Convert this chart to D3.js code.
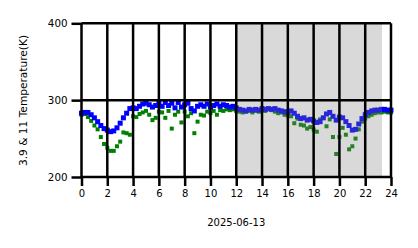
<!DOCTYPE html>
<html>
<head>
<meta charset="utf-8">
<script src="https://cdn.jsdelivr.net/npm/d3@7"></script>
<style>
  html, body { margin: 0; padding: 0; background: #fff; }
  svg { display: block; font-family: "DejaVu Sans", sans-serif; }
</style>
</head>
<body>
<svg id="chart" width="418" height="248"></svg>
<script>
// Time (hours of 2025-06-13), sampled every 15 minutes
const hours = d3.range(0, 24.001, 0.25);

// 3.9 µm brightness temperature (K) - blue
const t39 = [
  283, 284, 284, 281, 277, 272, 267, 263, 261, 259, 260, 264,
  270, 277, 283, 289, 290, 289, 292, 295, 296, 294, 291, 293,
  296, 292, 297, 293, 296, 290, 297, 291, 294, 296, 289, 286,
  292, 294, 292, 295, 291, 293, 295, 292, 294, 293, 291, 292,
  290, 288, 287, 286, 288, 287, 288, 287, 289, 288, 289, 288,
  289, 287, 286, 285, 284, 286, 283, 279, 276, 277, 274, 275,
  273, 271, 272, 277, 282, 284, 279, 274, 278, 277, 272, 267,
  261, 262, 269, 276, 281, 284, 286, 287, 287, 288, 288, 287, 287
];

// 11 µm brightness temperature (K) - green
const t11 = [
  281, 282, 278, 273, 267, 262, 252, 243, 238, 234, 234, 240,
  246, 258, 257, 255, 279, 278, 282, 284, 286, 281, 274, 277,
  285, 284, 277, 286, 263, 281, 285, 271, 285, 279, 283, 257,
  272, 281, 280, 285, 283, 286, 281, 287, 286, 288, 287, 288,
  286, 285, 284, 285, 286, 284, 286, 285, 287, 286, 288, 287,
  285, 283, 284, 281, 280, 279, 270, 276, 268, 267, 263, 265,
  262, 259, 275, 277, 266, 275, 252, 230, 252, 264, 255, 236,
  240, 250, 262, 272, 276, 279, 281, 283, 284, 284, 285, 284, 284
];

// Shaded interval (hours)
const shadeStart = 12.0, shadeEnd = 23.3;

const xTicks = d3.range(0, 25, 2);
const yTicks = [200, 300, 400];
const xLabel = "2025-06-13";
const yLabel = "3.9 & 11 Temperature(K)";

const svg = d3.select("#chart");
const x = d3.scaleLinear().domain([0, 24]).range([81.5, 391]);
const y = d3.scaleLinear().domain([200, 400]).range([177, 23.3]);

const pts39 = hours.map((h, i) => ({h, v: t39[i]}));
const pts11 = hours.map((h, i) => ({h, v: t11[i]}));

// points
const gPts = svg.append("g");
const sG = 4, sB = 5;
gPts.selectAll("rect.g11").data(pts11).join("rect")
  .attr("x", d => x(d.h) - sG / 2).attr("y", d => y(d.v) - sG / 2)
  .attr("width", sG).attr("height", sG).attr("fill", "#008000");
gPts.selectAll("rect.b39").data(pts39).join("rect")
  .attr("x", d => x(d.h) - sB / 2).attr("y", d => y(d.v) - sB / 2)
  .attr("width", sB).attr("height", sB).attr("fill", "#0000ff");

// shaded region
svg.append("rect")
  .attr("x", x(shadeStart)).attr("y", y(400))
  .attr("width", x(shadeEnd) - x(shadeStart)).attr("height", y(200) - y(400))
  .attr("fill", "#808080").attr("fill-opacity", 0.3);

// grid
const grid = svg.append("g").attr("stroke", "#000").attr("stroke-width", 2.5);
grid.selectAll("line.v").data(xTicks).join("line")
  .attr("x1", d => x(d)).attr("x2", d => x(d))
  .attr("y1", y(400)).attr("y2", y(200));
grid.selectAll("line.h").data(yTicks).join("line")
  .attr("x1", x(0)).attr("x2", x(24))
  .attr("y1", d => y(d)).attr("y2", d => y(d));

// axes
const xAxis = d3.axisBottom(x).tickValues(xTicks).tickSize(9).tickPadding(4).tickFormat(d3.format("d"));
const gx = svg.append("g").attr("transform", `translate(0,${y(200)})`).call(xAxis);
gx.select(".domain").remove();
gx.selectAll("line").attr("stroke", "#000").attr("stroke-width", 2.5);
gx.selectAll("text").attr("font-size", 10).attr("fill", "#000").attr("font-family", "DejaVu Sans");

const yAxis = d3.axisLeft(y).tickValues(yTicks).tickSize(10).tickPadding(4);
const gy = svg.append("g").attr("transform", `translate(${x(0)},0)`).call(yAxis);
gy.select(".domain").remove();
gy.selectAll("line").attr("stroke", "#000").attr("stroke-width", 2.5);
gy.selectAll("text").attr("font-size", 10.3).attr("fill", "#000").attr("font-family", "DejaVu Sans");

svg.append("text").attr("x", (x(0) + x(24)) / 2).attr("y", 226)
  .attr("text-anchor", "middle").attr("font-size", 10).text(xLabel);

svg.append("text").attr("transform", "translate(27,100.5) rotate(-90)")
  .attr("text-anchor", "middle").attr("font-size", 10.6).text(yLabel);
</script>
</body>
</html>
